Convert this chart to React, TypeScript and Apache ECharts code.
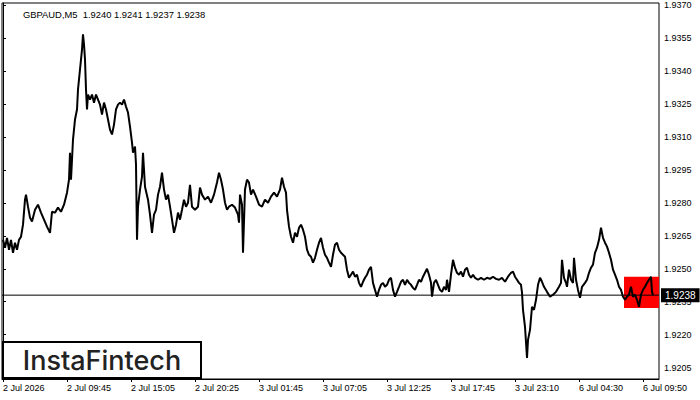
import React, { useEffect, useRef } from "react";
import * as echarts from "echarts";

const chartTitle = "GBPAUD,M5  1.9240 1.9241 1.9237 1.9238";
const lastPrice = 1.9238;

// x ticks: bar index (5-minute bars) and their labels
const xTickBars = [0, 64, 128, 192, 256, 320, 384, 448, 512, 576, 640];
const xTickLabels = [
  "2 Jul 2026", "2 Jul 09:45", "2 Jul 15:05", "2 Jul 20:25", "3 Jul 01:45",
  "3 Jul 07:05", "3 Jul 12:25", "3 Jul 17:45", "3 Jul 23:10", "6 Jul 04:30", "6 Jul 09:50",
];
const xRange = [-1, 656];

// y ticks
const yTicks = [
  1.9205, 1.922, 1.9235, 1.925, 1.9265, 1.928, 1.9295,
  1.931, 1.9325, 1.934, 1.9355, 1.937,
];
const yRange = [1.91998, 1.93711];

// pattern zone (bar range, price range)
const zoneBars = [621, 656];
const zonePrices = [1.92322, 1.92464];

// close prices sampled by bar index
const closeByBar: [number, number][] = [
  [0, 1.92632], [2, 1.92596], [4, 1.92641], [6, 1.92587], [8, 1.92632], [10, 1.92573],
  [12, 1.92619], [14, 1.92587], [16, 1.92632], [18, 1.92646], [20, 1.92701], [22, 1.92815],
  [23, 1.92838], [25, 1.92783], [27, 1.92733], [29, 1.92715], [32, 1.92769], [35, 1.92792],
  [38, 1.92756], [41, 1.92724], [44, 1.92692], [47, 1.92664], [49, 1.9276], [52, 1.92756],
  [55, 1.92779], [58, 1.9276], [61, 1.92792], [64, 1.92847], [66, 1.92906], [67, 1.93029],
  [68, 1.92906], [70, 1.93089], [72, 1.9318], [74, 1.93226], [75, 1.93317], [77, 1.93408],
  [79, 1.93499], [80, 1.93568], [81, 1.93522], [82, 1.93454], [83, 1.93317], [84, 1.93226],
  [85, 1.93294], [87, 1.93271], [89, 1.93294], [91, 1.93257], [93, 1.93294], [95, 1.93271],
  [97, 1.93248], [99, 1.93203], [101, 1.93257], [103, 1.93226], [105, 1.9318], [107, 1.93134],
  [109, 1.93112], [111, 1.93157], [113, 1.93226], [115, 1.93248], [117, 1.93257], [119, 1.93248],
  [121, 1.93271], [123, 1.93239], [125, 1.93212], [127, 1.93148], [129, 1.93075], [130, 1.93029],
  [132, 1.93057], [133, 1.92975], [134, 1.92632], [135, 1.92783], [137, 1.92861], [139, 1.9292],
  [140, 1.93029], [142, 1.92874], [145, 1.92815], [147, 1.92747], [149, 1.92664], [151, 1.92747],
  [153, 1.92769], [155, 1.92838], [157, 1.92874], [159, 1.92938], [161, 1.92861], [163, 1.92815],
  [165, 1.92838], [167, 1.92783], [169, 1.92724], [171, 1.92664], [173, 1.92701], [175, 1.92756],
  [177, 1.92724], [179, 1.92769], [181, 1.92815], [183, 1.92783], [185, 1.92801], [187, 1.92883],
  [189, 1.92783], [192, 1.92769], [195, 1.92783], [197, 1.9287], [199, 1.92838], [202, 1.92815],
  [205, 1.92829], [208, 1.92801], [211, 1.92838], [214, 1.92893], [216, 1.92938], [218, 1.92906],
  [220, 1.92861], [222, 1.92801], [224, 1.92769], [226, 1.92783], [229, 1.92792], [232, 1.92779],
  [235, 1.92747], [236, 1.9271], [237, 1.92838], [239, 1.92792], [240, 1.92573], [242, 1.92861],
  [244, 1.92906], [246, 1.92893], [248, 1.92838], [250, 1.92861], [253, 1.92829], [256, 1.92792],
  [259, 1.92783], [262, 1.92815], [265, 1.92801], [268, 1.92829], [271, 1.92847], [274, 1.92829],
  [277, 1.92861], [279, 1.92915], [281, 1.92874], [283, 1.92847], [284, 1.92769], [286, 1.92692],
  [288, 1.92646], [290, 1.92619], [292, 1.92664], [294, 1.92646], [296, 1.92687], [298, 1.92701],
  [300, 1.92678], [302, 1.92646], [304, 1.92587], [306, 1.92564], [308, 1.92555], [310, 1.92528],
  [312, 1.9255], [314, 1.92587], [316, 1.92619], [318, 1.92641], [320, 1.92596], [322, 1.92564],
  [324, 1.9255], [326, 1.92528], [328, 1.92509], [330, 1.92564], [332, 1.9261], [334, 1.92619],
  [336, 1.92587], [338, 1.92573], [340, 1.92564], [342, 1.92555], [344, 1.92496], [346, 1.92459],
  [348, 1.92473], [350, 1.92487], [352, 1.92464], [354, 1.92473], [356, 1.92436], [358, 1.92418],
  [360, 1.92441], [362, 1.92459], [364, 1.92473], [366, 1.92496], [368, 1.92509], [370, 1.92436],
  [372, 1.92404], [374, 1.92373], [376, 1.92404], [378, 1.92427], [380, 1.92436], [382, 1.92418],
  [384, 1.92427], [386, 1.9245], [388, 1.92459], [390, 1.92404], [392, 1.92373], [394, 1.92395],
  [396, 1.92418], [398, 1.92441], [400, 1.9245], [402, 1.92427], [404, 1.9245], [406, 1.92436],
  [408, 1.92427], [410, 1.92413], [412, 1.92404], [414, 1.92427], [416, 1.9245], [418, 1.92441],
  [420, 1.92464], [422, 1.92482], [424, 1.925], [426, 1.92473], [428, 1.92436], [429, 1.92373],
  [431, 1.92436], [433, 1.9245], [435, 1.92427], [437, 1.92404], [439, 1.92395], [441, 1.92418],
  [443, 1.92404], [444, 1.9245], [446, 1.92395], [448, 1.92473], [450, 1.92541], [452, 1.92505],
  [454, 1.92482], [456, 1.92473], [458, 1.92487], [460, 1.92464], [462, 1.92496], [464, 1.92505],
  [466, 1.92473], [468, 1.92459], [470, 1.92473], [472, 1.92459], [475, 1.9245], [478, 1.92459],
  [481, 1.9245], [484, 1.92459], [487, 1.92454], [490, 1.92464], [493, 1.92454], [496, 1.9245],
  [499, 1.92459], [502, 1.92441], [505, 1.92464], [508, 1.92482], [510, 1.92487], [512, 1.92464],
  [514, 1.9245], [516, 1.92436], [518, 1.92427], [519, 1.92391], [520, 1.92313], [522, 1.92236],
  [524, 1.92094], [525, 1.92176], [527, 1.92222], [529, 1.92327], [531, 1.92313], [533, 1.92359],
  [535, 1.92427], [537, 1.92459], [539, 1.92441], [541, 1.92418], [544, 1.92395], [547, 1.92373],
  [550, 1.92382], [553, 1.92395], [556, 1.92418], [558, 1.92436], [559, 1.92541], [561, 1.92459],
  [563, 1.92436], [564, 1.92418], [566, 1.92496], [568, 1.9245], [570, 1.92436], [571, 1.9255],
  [573, 1.9245], [575, 1.92404], [577, 1.92368], [579, 1.92418], [582, 1.92436], [584, 1.9245],
  [586, 1.92482], [588, 1.92505], [590, 1.92519], [592, 1.92573], [594, 1.92596], [596, 1.92632],
  [598, 1.92687], [600, 1.92641], [602, 1.92619], [604, 1.92601], [606, 1.92573], [608, 1.92541],
  [610, 1.92496], [612, 1.92473], [614, 1.9245], [616, 1.92418], [618, 1.92404], [620, 1.92373],
  [622, 1.92359], [624, 1.92373], [626, 1.92382], [628, 1.92418], [630, 1.92373], [632, 1.92382],
  [634, 1.92359], [636, 1.92327], [638, 1.92382], [640, 1.92404], [642, 1.92418], [644, 1.92436],
  [646, 1.9245], [648, 1.92464], [649, 1.92395], [650, 1.9238],
];

const FONT = "Liberation Sans, Arial, sans-serif";

export default function App() {
  const ref = useRef<HTMLDivElement>(null);
  useEffect(() => {
    if (!ref.current) return;
    const chart = echarts.init(ref.current, undefined, { renderer: "svg" });
    chart.setOption({
      animation: false,
      backgroundColor: "#ffffff",
      title: {
        text: chartTitle,
        left: 18,
        top: 5,
        textStyle: { fontFamily: FONT, fontSize: 9.4, fontWeight: "normal", color: "#000" },
      },
      grid: {
        left: 2,
        right: 41,
        top: 3,
        bottom: 21,
        show: true,
        borderColor: "#000",
        borderWidth: 1,
        backgroundColor: "#fff",
      },
      xAxis: {
        type: "value",
        min: xRange[0],
        max: xRange[1],
        splitLine: { show: false },
        axisLine: { show: true, lineStyle: { color: "#000", width: 1 } },
        axisTick: { show: true, length: 3, lineStyle: { color: "#000" }, customValues: xTickBars },
        axisLabel: {
          customValues: xTickBars,
          align: "left",
          margin: 4,
          fontFamily: FONT,
          fontSize: 9,
          color: "#000",
          formatter: (v: number) => {
            const k = xTickBars.indexOf(Math.round(v));
            return k >= 0 ? xTickLabels[k] : "";
          },
        },
      },
      yAxis: {
        type: "value",
        position: "right",
        min: yRange[0],
        max: yRange[1],
        scale: true,
        splitLine: { show: false },
        axisLine: { show: true, lineStyle: { color: "#000", width: 1 } },
        axisTick: { show: true, length: 3, lineStyle: { color: "#000" }, customValues: yTicks },
        axisLabel: {
          customValues: yTicks,
          margin: 5,
          fontFamily: FONT,
          fontSize: 9,
          color: "#000",
          formatter: (v: number) => v.toFixed(4),
        },
      },
      graphic: [
        {
          type: "rect",
          shape: { x: 3, y: 342, width: 198, height: 36 },
          style: { fill: "#fff", stroke: "#000", lineWidth: 2 },
          z: 10,
        },
        {
          type: "text",
          x: 102,
          y: 360,
          style: {
            text: "InstaFintech",
            fontFamily: "Inter, sans-serif",
            fontSize: 27,
            fontWeight: 500,
            fill: "#222",
            align: "center",
            verticalAlign: "middle",
          },
          z: 11,
        },
      ],
      series: [
        {
          type: "line",
          data: [],
          z: 1,
          silent: true,
          markArea: {
            silent: true,
            itemStyle: { color: "#ff0000", opacity: 1 },
            data: [[
              { xAxis: zoneBars[0], yAxis: zonePrices[1] },
              { xAxis: zoneBars[1], yAxis: zonePrices[0] },
            ]],
          },
        },
        {
          type: "line",
          data: [[xRange[0], lastPrice], [xRange[1], lastPrice]],
          z: 2,
          silent: true,
          symbol: "none",
          lineStyle: { color: "#000", width: 1 },
          endLabel: {
            show: true,
            distance: 2,
            formatter: () => lastPrice.toFixed(4),
            backgroundColor: "#000",
            color: "#fff",
            padding: [2, 4, 2, 4],
            fontFamily: FONT,
            fontSize: 10,
          },
        },
        {
          type: "line",
          data: closeByBar,
          z: 3,
          silent: true,
          symbol: "none",
          lineStyle: { color: "#000", width: 2 },
        },
      ],
    });
    return () => chart.dispose();
  }, []);
  return <div ref={ref} style={{ width: 700, height: 400, position: "absolute", left: 0, top: 0 }} />;
}
